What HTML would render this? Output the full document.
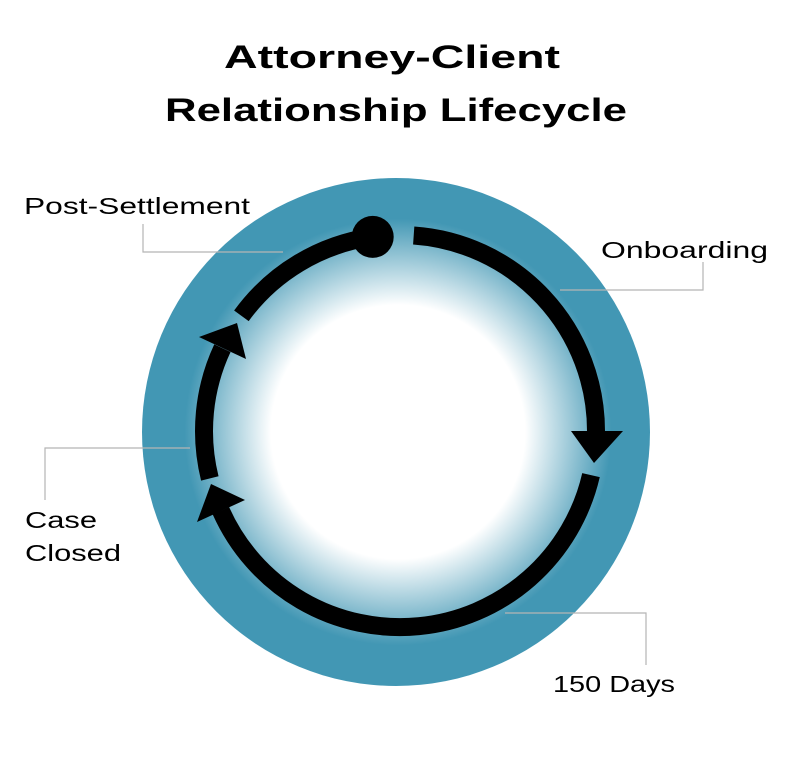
<!DOCTYPE html>
<html><head><meta charset="utf-8"><style>
html,body{margin:0;padding:0;background:#fff;}
svg{display:block;}
</style></head><body>
<svg width="800" height="759" viewBox="0 0 800 759" xmlns="http://www.w3.org/2000/svg">
<defs>
<radialGradient id="g" cx="398" cy="432" r="254" gradientUnits="userSpaceOnUse">
<stop offset="0" stop-color="#ffffff"/>
<stop offset="0.5" stop-color="#ffffff"/>
<stop offset="0.84" stop-color="#4297b4"/>
<stop offset="1" stop-color="#4297b4"/>
</radialGradient>
</defs>
<text x="392" y="68" font-family="Liberation Sans, sans-serif" font-weight="bold" font-size="32" text-anchor="middle" textLength="336" lengthAdjust="spacingAndGlyphs" fill="#000">Attorney-Client</text>
<text x="396" y="121" font-family="Liberation Sans, sans-serif" font-weight="bold" font-size="32" text-anchor="middle" textLength="462" lengthAdjust="spacingAndGlyphs" fill="#000">Relationship Lifecycle</text>

<circle cx="396" cy="432" r="254" fill="url(#g)"/>

<g fill="none" stroke="#000" stroke-width="18">
<path d="M413.7,235.5 A196,196 0 0 1 596,431"/>
<path d="M591,475.1 A196,196 0 0 1 220.9,510.7"/>
<path d="M209.8,478.4 A196,196 0 0 1 222.4,348.2"/>
<path d="M241.4,315.8 A196,196 0 0 1 372.7,236.9"/>
</g>
<g fill="#000">
<polygon points="571,431 623,431 594,463"/>
<polygon points="197,522 245,500 211,484"/>
<polygon points="199,337 246,359 237,323"/>
<circle cx="372.7" cy="236.9" r="21"/>
</g>

<g fill="none" stroke="#b5b5b5" stroke-width="1.2">
<polyline points="143,224 143,252 283,252"/>
<polyline points="560,290 703,290 703,262"/>
<polyline points="190,448 45,448 45,500"/>
<polyline points="505,613 646,613 646,665"/>
</g>

<g font-family="Liberation Sans, sans-serif" font-size="23" fill="#000">
<text x="24" y="214" textLength="226" lengthAdjust="spacingAndGlyphs">Post-Settlement</text>
<text x="601" y="258" textLength="167" lengthAdjust="spacingAndGlyphs">Onboarding</text>
<text x="25" y="528" textLength="72" lengthAdjust="spacingAndGlyphs">Case</text>
<text x="25" y="561" textLength="96" lengthAdjust="spacingAndGlyphs">Closed</text>
<text x="553" y="692" textLength="122" lengthAdjust="spacingAndGlyphs">150 Days</text>
</g>
</svg>
</body></html>
